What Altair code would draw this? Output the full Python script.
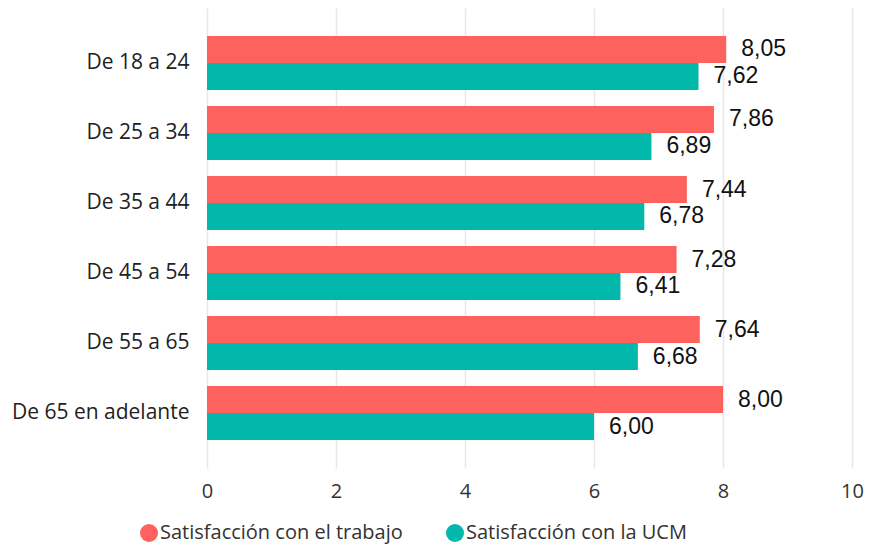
import altair as alt
import pandas as pd

categories = ["De 18 a 24", "De 25 a 34", "De 35 a 44", "De 45 a 54", "De 55 a 65", "De 65 en adelante"]
series = ["Satisfacción con el trabajo", "Satisfacción con la UCM"]
trabajo = [8.05, 7.86, 7.44, 7.28, 7.64, 8.00]
ucm = [7.62, 6.89, 6.78, 6.41, 6.68, 6.00]
colors = ["#FD625E", "#01B8AA"]
x_ticks = [0, 2, 4, 6, 8, 10]

rows = []
for c, a, b in zip(categories, trabajo, ucm):
    rows.append({"cat": c, "serie": series[0], "value": a})
    rows.append({"cat": c, "serie": series[1], "value": b})
df = pd.DataFrame(rows)

yscale = alt.Scale(domain=categories, paddingInner=0.229, paddingOuter=0.4)

base = alt.Chart(df).encode(
    y=alt.Y("cat:N", sort=categories, scale=yscale, title=None,
            axis=alt.Axis(domain=False, ticks=False, labelPadding=18, labelFontSize=21,
                          labelFont="Open Sans", labelColor="#222222", grid=False,
                          labelLimit=0)),
    yOffset=alt.YOffset("serie:N", sort=series),
)

bars = base.mark_bar().encode(
    x=alt.X("value:Q", scale=alt.Scale(domain=[0, 10]), title=None,
            axis=alt.Axis(values=x_ticks, format="d", domain=False, ticks=False,
                          labelFlush=False, labelBound=False,
                          labelPadding=13, labelFontSize=20, labelFont="Open Sans",
                          labelColor="#333333", gridColor="#e8e8e8", gridWidth=1.5)),
    color=alt.Color("serie:N", sort=series, scale=alt.Scale(domain=series, range=colors),
                    legend=alt.Legend(title=None, orient="none", legendX=-68, legendY=515,
                                      direction="horizontal", symbolType="circle",
                                      symbolSize=324, symbolOpacity=1, symbolStrokeWidth=0,
                                      labelFontSize=20, labelFont="Open Sans", labelLimit=0,
                                      labelColor="#333333", labelOffset=1, columnPadding=42)),
)

labels = base.mark_text(align="left", baseline="middle", dx=15, fontSize=23,
                        font="Liberation Sans", color="#111111").encode(
    x=alt.X("value:Q"),
    text="label:N",
).transform_calculate(label="replace(format(datum.value, '.2f'), '.', ',')")

chart = alt.layer(bars, labels).properties(
    width=645, height=460,
    autosize=alt.AutoSizeParams(type="none"),
    padding={"left": 199, "top": 0, "right": 12, "bottom": 79},
).configure_view(stroke=None)

chart.save("out.html", embed_options={"renderer": "svg", "actions": False})
